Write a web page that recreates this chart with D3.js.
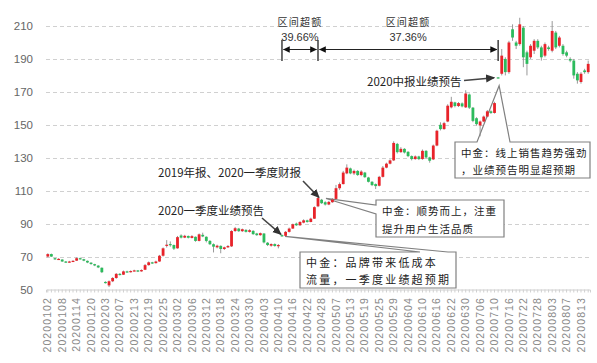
<!DOCTYPE html>
<html>
<head>
<meta charset="utf-8">
<script src="https://cdn.jsdelivr.net/npm/d3@7"></script>
<style>
    body { margin: 0; background: #fff; }
    svg { display: block; }
</style>
</head>
<body>
<svg class="kl-svg"></svg>
<script>

// trading days shown on the chart
const dates = ('20200102 20200103 20200106 20200107 20200108 20200109 20200110 20200113 20200114 20200115 20200116 20200117 20200120 20200121 20200122 20200123 ' +
    '20200203 20200204 20200205 20200206 20200207 20200210 20200211 20200212 20200213 20200214 20200217 20200218 20200219 20200220 20200221 20200224 20200225 20200226 20200227 20200228 ' +
    '20200302 20200303 20200304 20200305 20200306 20200309 20200310 20200311 20200312 20200313 20200316 20200317 20200318 20200319 20200320 20200323 20200324 20200325 20200326 20200327 20200330 20200331 ' +
    '20200401 20200402 20200403 20200407 20200408 20200409 20200410 20200413 20200414 20200415 20200416 20200417 20200420 20200421 20200422 20200423 20200424 20200427 20200428 20200429 20200430 ' +
    '20200506 20200507 20200508 20200511 20200512 20200513 20200514 20200515 20200518 20200519 20200520 20200521 20200522 20200525 20200526 20200527 20200528 20200529 ' +
    '20200601 20200602 20200603 20200604 20200605 20200608 20200609 20200610 20200611 20200612 20200615 20200616 20200617 20200618 20200619 20200622 20200623 20200624 20200629 20200630 ' +
    '20200701 20200702 20200703 20200706 20200707 20200708 20200709 20200710 20200713 20200714 20200715 20200716 20200717 20200720 20200721 20200722 20200723 20200724 20200727 20200728 20200729 20200730 20200731 ' +
    '20200803 20200804 20200805 20200806 20200807 20200810 20200811 20200812 20200813 20200814 20200817').split(' ')

const open = [
    70, 71.5, 69, 68.3, 68.2, 67, 66.6, 67, 67.5, 69,
    68.4, 67.4, 66.3, 65.4, 64.5, 63.2, 54.6, 52.5, 55, 57,
    59.5, 59, 61, 60.6, 61.2, 61.6, 61, 62, 64.8, 66.5,
    66, 67, 70.5, 77, 77.6, 77, 75, 82.8, 81.5, 82.5,
    81.3, 82, 79.5, 83.2, 82, 79.5, 77.5, 75.6, 76.5, 74.6,
    75.6, 76.2, 85.5, 87, 85.4, 86.2, 85, 85.6, 84, 83,
    84, 78.4, 76.6, 77.6, 76.4, 83, 82.6, 85, 87, 90,
    89, 90.6, 92, 91, 93, 100.5, 104.5, 103, 101.6, 103,
    105, 111.5, 114, 120.5, 123.5, 120.5, 122, 119.5, 121, 118,
    115.4, 114, 113, 118.4, 124, 126.4, 128.4, 138.4, 133.4, 135.4,
    133.6, 131, 129.2, 130.8, 129.2, 134.2, 130.2, 129, 137.4, 150,
    147.4, 152, 160.6, 163.6, 161.4, 163, 160.6, 168.4, 160.4, 154,
    149.6, 152, 155, 158.2, 157.2, 178.8, 181, 190, 182, 208,
    200, 199, 209, 194, 191, 195, 201, 197, 192, 197,
    195, 206, 198, 198, 194, 190, 189, 181, 176, 183, 182
]

const close = [
    71.5, 70, 68.3, 68.6, 67, 66.6, 67, 67.4, 69, 68.6,
    67.5, 66.4, 65.5, 64.6, 63.4, 60.5, 54, 55, 57, 59.5,
    59, 61, 60.6, 61.2, 61.6, 61, 61.8, 64.8, 66.5, 66,
    67, 70.5, 75, 77.2, 77.4, 74.8, 81.8, 81.5, 82.6, 81.4,
    82.4, 79.5, 83.5, 82.2, 79.5, 77.5, 76, 76.6, 74.6, 75.6,
    76.4, 85.5, 87.2, 85.4, 86.6, 85, 86, 83.6, 83, 84.2,
    78.6, 77, 77.6, 76.4, 77, 82.4, 85, 87, 89.6, 89,
    91, 92, 91, 93, 100, 105.5, 102.4, 101.6, 103.2, 104.6,
    111.5, 114, 121, 124, 120.5, 122, 119.5, 121.6, 118.2, 115.4,
    113.4, 112.8, 118.4, 124, 126.4, 128.4, 139, 133.4, 135.4, 133.2,
    131, 129.2, 130.8, 129.2, 134.2, 130.2, 128.2, 137.4, 146.4, 147.4,
    151, 161.6, 164, 161.4, 163.2, 161.2, 169, 160.4, 152.4, 150.4,
    152, 155, 158.2, 157.2, 163.2, 178.4, 192, 182, 200, 203,
    198, 211, 191, 187, 198, 201, 197, 191, 199, 196,
    207, 197, 203, 193, 192, 189, 180, 177, 181, 182, 187
]

const high = [
    72, 71.8, 69.2, 69, 68.4, 67.3, 67.4, 67.8, 69.5, 69.4,
    68.6, 67.6, 66.5, 65.6, 64.8, 63.4, 55, 55.5, 57.5, 60,
    60, 61.5, 61.4, 61.6, 62, 61.8, 62.2, 65.5, 67, 66.8,
    67.5, 71, 75.5, 80, 79.2, 77.3, 82.5, 83.5, 83.2, 82.8,
    83, 82.2, 84, 84.5, 82.3, 80, 78, 77.2, 76.8, 76,
    77, 86, 88, 87.4, 87, 86.6, 86.6, 86, 84.4, 84.6,
    84.2, 78.8, 78, 78, 77.6, 83.4, 85.5, 87.6, 90, 90.6,
    91.5, 92.6, 92.4, 93.6, 100.5, 106.5, 105, 103.6, 103.8, 105.5,
    113.5, 115, 122, 126, 124, 122.8, 122.5, 122.4, 121.4, 118.4,
    115.8, 114.4, 119, 125, 127, 129, 140, 139, 136.4, 135.8,
    134, 131.4, 131.4, 131.2, 135, 134.6, 130.6, 138, 147, 151.5,
    151.8, 162.5, 167, 164, 163.8, 163.6, 171, 169, 160.8, 154.6,
    152.6, 155.6, 159, 158.8, 164, 179, 196, 191, 201, 211,
    201, 215, 210, 195, 199, 202, 202, 198, 200, 198,
    213, 207, 204, 199, 195, 191, 190, 182, 182, 184, 189
]

const low = [
    69.5, 69.8, 68, 68, 66.8, 66.2, 66.3, 66.8, 67.3, 68.2,
    67.2, 66, 65, 64.2, 63, 60, 53.6, 51.5, 54.5, 56.5,
    58.5, 58.8, 60.2, 60.3, 61, 60.6, 60.8, 61.8, 64.5, 65.5,
    65.8, 66.8, 70, 75.5, 76, 74, 74.8, 81, 81.2, 81,
    81, 79, 79.2, 81.8, 78.6, 77, 72.5, 75, 72, 74,
    75.2, 75.8, 85, 85, 85, 84.6, 84.6, 83.2, 82.6, 82.6,
    78, 76.4, 76, 76, 75, 82, 82.2, 84.6, 86.8, 88.6,
    88.6, 90.2, 90.6, 90.8, 92.8, 100, 102, 101, 101.2, 102.6,
    104.8, 110.5, 113.8, 120, 120, 119.5, 119, 118.8, 117.8, 115,
    112.8, 111, 112.6, 118, 123.6, 126, 128, 132.6, 133, 132.6,
    130.4, 128.4, 128.8, 128.6, 128.8, 129.6, 127, 128.6, 137, 146.6,
    147, 151.6, 160, 160.6, 160.8, 160.6, 160.2, 159.6, 151.6, 149.6,
    143, 151.6, 154.6, 156.6, 156.8, 178.2, 180, 180, 181, 201,
    196, 198, 185, 180, 190, 193, 196, 189, 191, 195,
    194, 196, 197, 192, 191, 188, 178, 175, 175, 181, 181
]

const yTicks = [50, 70, 90, 110, 130, 150, 170, 190, 210]

// bracket dates and the excess returns between them
const bracketDates = ['20200413', '20200427', '20200713']
const excessTitle = '区间超额'
const excessValues = ['39.66%', '37.36%']

const eventNotes = ['2020一季度业绩预告', '2019年报、2020一季度财报', '2020中报业绩预告']
const eventDates = ['20200413', '20200427', '20200713']
const eventPrices = [83.5, 106.5, 178.6]

const brokerNotes = [
    ['中金：品牌带来低成本', '流量，一季度业绩超预期'],
    ['中金：顺势而上，注重', '提升用户生活品质'],
    ['中金：线上销售趋势强劲', '，业绩预告明显超预期']
]

const width = 597
const height = 363
const red = '#e8232a'
const green = '#2cbb5c'
const cjk = '"Noto Sans CJK SC", "Noto Sans", sans-serif'
const latin = '"Liberation Sans", Arial, sans-serif'

const svg = d3.select('.kl-svg')
    .attr('width', width)
    .attr('height', height)

const x = d3.scaleBand()
    .domain(dates)
    .range([46, 590])

const y = d3.scaleLinear()
    .domain([50, 210])
    .range([289.5, 26])

const bw = x.bandwidth()
const cx = d => x(d) + bw / 2

const defs = svg.append('defs')

const marker = (id, size, fill) => {
    defs.append('marker')
        .attr('id', id)
        .attr('viewBox', '0 0 10 10')
        .attr('refX', 9)
        .attr('refY', 5)
        .attr('markerUnits', 'userSpaceOnUse')
        .attr('markerWidth', size)
        .attr('markerHeight', size)
        .attr('orient', 'auto-start-reverse')
        .append('path')
        .attr('d', 'M0,0.5 L10,5 L0,9.5 z')
        .attr('fill', fill)
}
marker('ah', 7, '#111')
marker('ah2', 9, '#333')

// grid
svg.append('g')
    .selectAll('line')
    .data(yTicks.filter(d => d > 50))
    .join('line')
    .attr('x1', 46)
    .attr('x2', 590)
    .attr('y1', d => Math.round(y(d)) + 0.5)
    .attr('y2', d => Math.round(y(d)) + 0.5)
    .attr('stroke', '#d0d0d0')
    .attr('stroke-dasharray', '4,3')

svg.append('g')
    .selectAll('text')
    .data(yTicks)
    .join('text')
    .attr('x', 33)
    .attr('y', d => y(d))
    .attr('dy', '0.36em')
    .attr('text-anchor', 'end')
    .attr('font-family', latin)
    .attr('font-size', 11.5)
    .attr('fill', '#666')
    .text(d => d)

// x axis: a tick for every day, a label every fourth day
const xAxis = svg.append('g')
    .attr('transform', 'translate(0, 289.5)')
    .call(d3.axisBottom(x).tickSize(3).tickFormat(''))
xAxis.select('.domain').attr('stroke', '#d0d0d0')
xAxis.selectAll('.tick line').attr('stroke', '#d0d0d0')

svg.append('g')
    .selectAll('text')
    .data(dates.filter((d, i) => i % 4 === 0))
    .join('text')
    .attr('transform', d => `translate(${cx(d) + 3.6}, 297) rotate(-90)`)
    .attr('text-anchor', 'end')
    .attr('font-family', latin)
    .attr('font-size', 10.5)
    .attr('letter-spacing', 1.1)
    .attr('fill', '#888')
    .text(d => d)

// callout boxes (drawn under the candles so the wedges don't hide them)
const callout = (box, apex, side, b1, b2, lines, fs, ls) => {
    const [x0, y0, x1, y1] = box
    let pts
    if (side === 'top') {
        pts = [[x0, y0], [b1, y0], apex, [b2, y0], [x1, y0], [x1, y1], [x0, y1]]
    } else {
        pts = [[x0, y0], [x1, y0], [x1, y1], [x0, y1], [x0, b2], apex, [x0, b1]]
    }
    svg.append('path')
        .attr('d', d3.line()(pts) + 'Z')
        .attr('fill', '#fff')
        .attr('stroke', '#808080')
        .attr('stroke-width', 1.2)

    svg.append('g')
        .selectAll('text')
        .data(lines)
        .join('text')
        .attr('x', x0 + 6)
        .attr('y', (d, i) => y0 + (y1 - y0) * (i === 0 ? 0.3 : 0.78))
        .attr('dy', '0.36em')
        .attr('font-family', cjk)
        .attr('font-size', fs)
        .attr('letter-spacing', ls)
        .attr('fill', '#222')
        .text(d => d)
}

callout([300, 252, 456, 288], [cx(eventDates[0]) + 3, y(eventPrices[0]) + 2], 'top', 420, 448, brokerNotes[0], 11, 2.2)
callout([376, 200, 504, 237], [cx(eventDates[1]) + 8, y(eventPrices[1]) + 2], 'left', 205, 214, brokerNotes[1], 10.5, 1)
callout([455, 142, 590, 178], [cx(eventDates[2]) + 1, y(eventPrices[2]) + 8], 'top', 477, 510, brokerNotes[2], 10.5, 1)

// candles
const candles = svg.append('g')
    .selectAll('g')
    .data(dates)
    .join('g')

candles.append('line')
    .attr('x1', d => cx(d))
    .attr('x2', d => cx(d))
    .attr('y1', (d, i) => y(high[i]))
    .attr('y2', (d, i) => y(low[i]))
    .attr('stroke', '#8c8c8c')
    .attr('stroke-width', 0.9)

candles.append('rect')
    .attr('x', d => cx(d) - bw * 0.39)
    .attr('width', bw * 0.78)
    .attr('y', (d, i) => y(Math.max(open[i], close[i])))
    .attr('height', (d, i) => Math.max(1.2, Math.abs(y(open[i]) - y(close[i]))))
    .attr('fill', (d, i) => close[i] >= open[i] ? red : green)

// excess-return brackets
const bx = bracketDates.map(cx)

svg.append('g')
    .selectAll('line')
    .data(bx)
    .join('line')
    .attr('x1', d => d)
    .attr('x2', d => d)
    .attr('y1', 40)
    .attr('y2', 61)
    .attr('stroke', '#222')
    .attr('stroke-width', 1.3)

excessValues.forEach((v, i) => {
    const a = bx[i]
    const b = bx[i + 1]
    svg.append('line')
        .attr('x1', a + 1.5)
        .attr('x2', b - 1.5)
        .attr('y1', 49.5)
        .attr('y2', 49.5)
        .attr('stroke', '#222')
        .attr('stroke-width', 1.2)
        .attr('marker-start', 'url(#ah)')
        .attr('marker-end', 'url(#ah)')

    svg.append('text')
        .attr('x', (a + b) / 2)
        .attr('y', 22.5)
        .attr('dy', '0.36em')
        .attr('text-anchor', 'middle')
        .attr('font-family', cjk)
        .attr('font-size', 10)
        .attr('letter-spacing', 1.2)
        .attr('fill', '#333')
        .text(excessTitle)

    svg.append('text')
        .attr('x', (a + b) / 2)
        .attr('y', 37)
        .attr('dy', '0.36em')
        .attr('text-anchor', 'middle')
        .attr('font-family', latin)
        .attr('font-size', 11)
        .attr('fill', '#333')
        .text(v)
})

// event notes with arrows
const noteText = [
    { x: 158, y: 211 },
    { x: 158, y: 173 },
    { x: 367, y: 82 }
]
const noteArrow = [
    [[262, 218], [cx(eventDates[0]) - 1, y(eventPrices[0])]],
    [[303, 181], [cx(eventDates[1]) + 1, y(eventPrices[1]) + 1]],
    [[464, 80.5], [cx(eventDates[2]) - 4, y(eventPrices[2])]]
]

eventNotes.forEach((t, i) => {
    svg.append('text')
        .attr('x', noteText[i].x)
        .attr('y', noteText[i].y)
        .attr('dy', '0.36em')
        .attr('font-family', cjk)
        .attr('font-size', 11.5)
        .attr('fill', '#222')
        .text(t)

    svg.append('line')
        .attr('x1', noteArrow[i][0][0])
        .attr('y1', noteArrow[i][0][1])
        .attr('x2', noteArrow[i][1][0])
        .attr('y2', noteArrow[i][1][1])
        .attr('stroke', '#444')
        .attr('stroke-width', 1.6)
        .attr('marker-end', 'url(#ah2)')
})

</script>
</body>
</html>
